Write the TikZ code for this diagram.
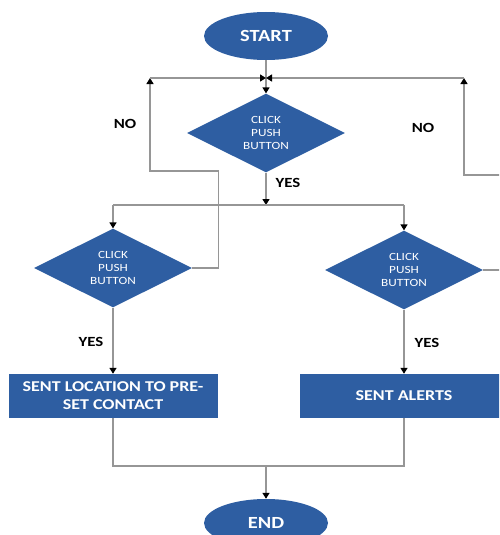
\documentclass[tikz,border=0pt]{standalone}
\usepackage{fontspec}
\setmainfont{Carlito}[FakeStretch=1.2]
\usetikzlibrary{shapes.geometric,arrows.meta}
\definecolor{flowblue}{RGB}{46,94,162}
\definecolor{flowgrey}{RGB}{150,150,150}
\tikzset{
    Terminal/.style = {ellipse,fill=flowblue,text=white,inner sep=0pt,
        minimum width=124pt,minimum height=48pt,font=\fontsize{17}{20}\selectfont\bfseries},
    Decision/.style = {diamond,fill=flowblue,text=white,inner sep=0pt,align=center,
        minimum width=158pt,minimum height=77pt,font=\fontsize{11}{13}\selectfont},
    Process/.style = {rectangle,fill=flowblue,text=white,align=center,
        minimum width=209pt,minimum height=44pt,font=\fontsize{15}{18}\selectfont\bfseries},
    Link/.style = {draw=flowgrey,line width=1.3pt},
    Flow/.style = {Link,-{Triangle[length=6pt,width=7pt,color=black]}},
    Answer/.style = {font=\fontsize{14}{18}\selectfont\bfseries}
}
\begin{document}
\begin{tikzpicture}[x=1pt,y=-1pt]
    \useasboundingbox (0,0) rectangle (499,535);
    \clip (0,0) rectangle (499,535);
    % shapes
    \node[Terminal] (start) at (266,36) {START};
    \node[Decision] (d1) at (266,133) {CLICK\\PUSH\\BUTTON};
    \node[Decision] (dl) at (113,268) {CLICK\\PUSH\\BUTTON};
    \node[Decision] (dr) at (404,270) {CLICK\\PUSH\\BUTTON};
    \node[Process] (pl) at (113,396) {SENT LOCATION TO PRE-\\SET CONTACT};
    \node[Process] (pr) at (404,396) {SENT ALERTS};
    \node[Terminal] (finish) at (266,523) {END};
    % labels
    \node[Answer] (noleft) at (125,124) {NO};
    \node[Answer] (noright) at (423,128) {NO};
    \node[Answer] (yesmid) at (288,183) {YES};
    \node[Answer] (yesleft) at (91,342) {YES};
    \node[Answer] (yesright) at (427,343) {YES};
    % junctions
    \coordinate (merge) at (266,78);
    \coordinate (split) at (266,205);
    \coordinate (join) at (266,466);
    \coordinate (loopl) at (150,171);
    \coordinate (loopr) at (464,175);
    % connectors
    \draw[Link] (start) -- (merge);
    \draw[Flow] (merge) -- (d1);
    \draw[Flow] (d1) -- (split);
    \draw[Link] (split -| dl) -- (split -| dr);
    \draw[Flow] (split -| dl) -- (dl);
    \draw[Flow] (split -| dr) -- (dr);
    \draw[Flow] (dl.east) -- ++(26,0) |- (loopl) -- (loopl |- merge);
    \draw[Flow] (loopl |- merge) -- (merge);
    \draw[Flow] (dr.east) -- ++(30,0) |- (loopr) -- (loopr |- merge);
    \draw[Flow] (loopr |- merge) -- (merge);
    \draw[Flow] (dl) -- (pl);
    \draw[Flow] (dr) -- (pr);
    \draw[Link] (pl) -- (pl |- join) -- (pr |- join) -- (pr);
    \draw[Flow] (join) -- (finish);
\end{tikzpicture}
\end{document}
